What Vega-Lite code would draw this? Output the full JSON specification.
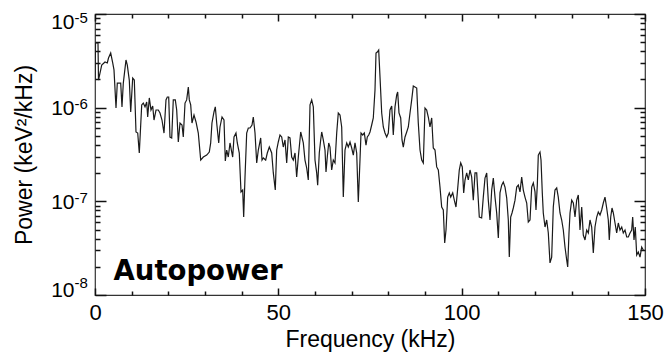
{
  "$schema": "https://vega.github.io/schema/vega-lite/v6.json",
  "width": 550,
  "height": 281,
  "autosize": {"type": "none"},
  "padding": {"left": 95, "top": 14, "right": 21, "bottom": 62},
  "background": "white",
  "config": {
    "view": {"stroke": "#333333", "strokeWidth": 1.2},
    "axis": {"domain": false, "grid": false, "ticks": true, "tickColor": "#111111", "tickWidth": 1.5, "tickOpacity": 1, "zindex": 1, "labelColor": "black", "titleColor": "black", "labelFont": "Liberation Sans", "titleFont": "Liberation Sans", "titleFontWeight": "normal", "labelOverlap": false, "labelFlush": false}
  },
  "datasets": {
    "spectrum": [
      {"f":0,"p":1.97e-6},{"f":0.14,"p":4.90e-6},{"f":0.82,"p":4.90e-6},{"f":0.95,"p":1.97e-6},{"f":1.83,"p":2.85e-6},{"f":2.73,"p":3.07e-6},{"f":3.35,"p":3.00e-6},{"f":3.68,"p":3.39e-6},{"f":4.28,"p":3.83e-6},{"f":4.83,"p":3.00e-6},
      {"f":5.18,"p":2.53e-6},{"f":5.73,"p":9.92e-7},{"f":6.08,"p":1.83e-6},{"f":7.01,"p":1.83e-6},{"f":7.36,"p":1.02e-6},{"f":7.72,"p":1.83e-6},{"f":8.45,"p":3.23e-6},{"f":8.81,"p":2.85e-6},{"f":9.35,"p":1.97e-6},{"f":9.74,"p":8.99e-7},
      {"f":10.28,"p":2.07e-6},{"f":10.72,"p":1.97e-6},{"f":11.18,"p":5.50e-7},{"f":11.65,"p":5.36e-7},{"f":12.08,"p":3.28e-7},{"f":12.74,"p":1.07e-6},{"f":13.17,"p":1.12e-6},{"f":13.64,"p":1.02e-6},{"f":14.1,"p":1.15e-6},{"f":14.37,"p":7.95e-7},
      {"f":14.81,"p":1.27e-6},{"f":15.27,"p":9.44e-7},{"f":15.74,"p":1.04e-6},{"f":16.09,"p":7.38e-7},{"f":16.64,"p":9.44e-7},{"f":17.26,"p":9.44e-7},{"f":17.73,"p":8.77e-7},{"f":18.27,"p":7.38e-7},{"f":18.82,"p":5.36e-7},{"f":19.36,"p":1.21e-6},
      {"f":19.72,"p":1.30e-6},{"f":20.1,"p":1.30e-6},{"f":20.45,"p":4.86e-7},{"f":20.92,"p":4.75e-7},{"f":21.35,"p":1.21e-6},{"f":21.9,"p":1.21e-6},{"f":22.28,"p":9.44e-7},{"f":22.72,"p":4.30e-7},{"f":23.18,"p":6.86e-7},{"f":23.73,"p":6.53e-7},
      {"f":24.08,"p":4.86e-7},{"f":24.55,"p":1.12e-6},{"f":25.0,"p":1.21e-6},{"f":25.45,"p":1.66e-6},{"f":25.72,"p":1.21e-6},{"f":26.1,"p":1.07e-6},{"f":26.45,"p":6.86e-7},{"f":27.0,"p":8.35e-7},{"f":27.55,"p":7.03e-7},{"f":28.17,"p":5.36e-7},
      {"f":28.83,"p":2.76e-7},{"f":29.54,"p":2.97e-7},{"f":30.46,"p":3.12e-7},{"f":31.17,"p":3.36e-7},{"f":31.55,"p":4.20e-7},{"f":31.9,"p":6.86e-7},{"f":32.45,"p":8.99e-7},{"f":32.81,"p":1.02e-6},{"f":33.19,"p":6.86e-7},{"f":33.74,"p":4.20e-7},
      {"f":34.09,"p":6.22e-7},{"f":34.64,"p":7.95e-7},{"f":35.18,"p":7.38e-7},{"f":35.54,"p":2.70e-7},{"f":35.92,"p":3.53e-7},{"f":36.35,"p":2.97e-7},{"f":36.82,"p":4.20e-7},{"f":37.55,"p":2.97e-7},{"f":37.91,"p":4.86e-7},{"f":38.45,"p":5.36e-7},
      {"f":38.81,"p":4.20e-7},{"f":39.35,"p":3.28e-7},{"f":39.82,"p":1.26e-7},{"f":40.28,"p":1.32e-7},{"f":40.55,"p":6.80e-8},{"f":40.91,"p":1.82e-7},{"f":41.37,"p":5.36e-7},{"f":41.81,"p":6.07e-7},{"f":42.27,"p":6.07e-7},{"f":42.82,"p":6.53e-7},
      {"f":43.17,"p":7.95e-7},{"f":43.64,"p":5.36e-7},{"f":44.1,"p":2.57e-7},{"f":44.54,"p":3.53e-7},{"f":45.19,"p":4.75e-7},{"f":45.55,"p":2.76e-7},{"f":45.9,"p":2.90e-7},{"f":46.55,"p":2.76e-7},{"f":46.99,"p":3.28e-7},{"f":47.54,"p":3.80e-7},
      {"f":48.19,"p":3.28e-7},{"f":48.63,"p":2.01e-7},{"f":49.17,"p":1.32e-7},{"f":49.55,"p":3.53e-7},{"f":49.99,"p":4.30e-7},{"f":50.45,"p":5.11e-7},{"f":50.92,"p":4.86e-7},{"f":51.35,"p":3.80e-7},{"f":51.82,"p":4.52e-7},{"f":52.28,"p":2.57e-7},
      {"f":52.72,"p":4.86e-7},{"f":53.18,"p":4.75e-7},{"f":53.64,"p":2.97e-7},{"f":54.08,"p":2.76e-7},{"f":54.55,"p":3.28e-7},{"f":55.0,"p":1.82e-7},{"f":55.45,"p":2.97e-7},{"f":56.1,"p":5.50e-7},{"f":56.81,"p":4.20e-7},{"f":57.27,"p":2.76e-7},
      {"f":57.73,"p":2.27e-7},{"f":58.17,"p":1.69e-7},{"f":58.64,"p":1.07e-6},{"f":59.1,"p":1.21e-6},{"f":59.54,"p":1.02e-6},{"f":60.0,"p":2.76e-7},{"f":60.46,"p":2.01e-7},{"f":60.73,"p":1.49e-7},{"f":61.17,"p":3.28e-7},{"f":61.55,"p":4.52e-7},
      {"f":61.83,"p":5.50e-7},{"f":62.26,"p":4.52e-7},{"f":62.73,"p":3.53e-7},{"f":63.0,"p":2.06e-7},{"f":63.35,"p":2.97e-7},{"f":63.74,"p":4.20e-7},{"f":64.09,"p":3.80e-7},{"f":64.55,"p":2.16e-7},{"f":64.99,"p":2.76e-7},{"f":65.45,"p":2.57e-7},
      {"f":65.92,"p":5.36e-7},{"f":66.35,"p":8.77e-7},{"f":66.82,"p":8.35e-7},{"f":67.28,"p":6.22e-7},{"f":67.72,"p":1.11e-7},{"f":68.18,"p":3.53e-7},{"f":68.65,"p":4.20e-7},{"f":69.08,"p":3.80e-7},{"f":69.55,"p":4.30e-7},{"f":70.01,"p":3.71e-7},
      {"f":70.45,"p":3.12e-7},{"f":70.91,"p":4.20e-7},{"f":71.37,"p":3.28e-7},{"f":71.81,"p":9.84e-8},{"f":72.27,"p":2.76e-7},{"f":72.55,"p":5.36e-7},{"f":73.01,"p":5.11e-7},{"f":73.45,"p":5.36e-7},{"f":73.91,"p":3.99e-7},{"f":74.26,"p":4.86e-7},
      {"f":74.65,"p":5.11e-7},{"f":75.0,"p":5.50e-7},{"f":75.46,"p":6.53e-7},{"f":75.9,"p":7.76e-7},{"f":76.36,"p":1.54e-6},{"f":76.64,"p":3.83e-6},{"f":76.99,"p":3.93e-6},{"f":77.37,"p":4.13e-6},{"f":77.73,"p":2.13e-6},{"f":78.19,"p":8.77e-7},
      {"f":78.63,"p":6.22e-7},{"f":79.09,"p":5.36e-7},{"f":79.55,"p":4.86e-7},{"f":79.99,"p":5.36e-7},{"f":80.45,"p":9.44e-7},{"f":80.92,"p":1.04e-6},{"f":81.35,"p":5.11e-7},{"f":81.82,"p":1.02e-6},{"f":82.28,"p":1.37e-6},{"f":82.55,"p":1.47e-6},
      {"f":82.91,"p":8.77e-7},{"f":83.37,"p":7.76e-7},{"f":83.73,"p":4.52e-7},{"f":84.08,"p":3.80e-7},{"f":84.55,"p":4.86e-7},{"f":85.01,"p":5.50e-7},{"f":85.45,"p":6.22e-7},{"f":85.91,"p":8.77e-7},{"f":86.37,"p":1.21e-6},{"f":86.81,"p":1.70e-6},
      {"f":87.27,"p":1.66e-6},{"f":87.74,"p":1.62e-6},{"f":88.17,"p":6.86e-7},{"f":88.64,"p":3.53e-7},{"f":89.1,"p":2.76e-7},{"f":89.54,"p":2.57e-7},{"f":90.0,"p":9.92e-7},{"f":90.46,"p":9.44e-7},{"f":90.9,"p":7.95e-7},{"f":91.36,"p":6.22e-7},
      {"f":91.83,"p":7.76e-7},{"f":92.26,"p":3.71e-7},{"f":92.73,"p":3.53e-7},{"f":93.19,"p":2.33e-7},{"f":93.63,"p":2.16e-7},{"f":94.09,"p":1.42e-7},{"f":94.55,"p":8.70e-8},{"f":94.99,"p":8.08e-8},{"f":95.37,"p":3.59e-8},{"f":95.73,"p":4.94e-8},
      {"f":96.19,"p":1.11e-7},{"f":96.63,"p":1.23e-7},{"f":97.01,"p":1.11e-7},{"f":97.56,"p":1.23e-7},{"f":97.99,"p":1.03e-7},{"f":98.45,"p":8.70e-8},{"f":98.81,"p":1.23e-7},{"f":99.35,"p":2.16e-7},{"f":99.74,"p":2.57e-7},{"f":100.17,"p":2.33e-7},
      {"f":100.55,"p":1.23e-7},{"f":100.91,"p":1.69e-7},{"f":101.37,"p":2.01e-7},{"f":101.81,"p":1.69e-7},{"f":102.27,"p":2.16e-7},{"f":102.73,"p":1.82e-7},{"f":103.17,"p":1.03e-7},{"f":103.64,"p":2.01e-7},{"f":104.1,"p":2.01e-7},{"f":104.81,"p":6.80e-8},
      {"f":105.45,"p":6.64e-8},{"f":105.9,"p":1.11e-7},{"f":106.36,"p":1.77e-7},{"f":106.83,"p":2.01e-7},{"f":107.26,"p":1.03e-7},{"f":107.73,"p":6.32e-8},{"f":108.19,"p":1.32e-7},{"f":108.63,"p":1.77e-7},{"f":109.09,"p":1.11e-7},{"f":109.55,"p":7.51e-8},
      {"f":110.0,"p":4.06e-8},{"f":110.45,"p":1.23e-7},{"f":110.92,"p":1.49e-7},{"f":111.35,"p":1.61e-7},{"f":111.82,"p":1.42e-7},{"f":112.28,"p":1.09e-7},{"f":112.72,"p":6.32e-8},{"f":112.99,"p":2.54e-8},{"f":113.37,"p":6.80e-8},{"f":113.73,"p":7.51e-8},
      {"f":114.08,"p":8.49e-8},{"f":114.55,"p":1.03e-7},{"f":115.01,"p":1.42e-7},{"f":115.45,"p":1.49e-7},{"f":115.91,"p":1.26e-7},{"f":116.37,"p":1.82e-7},{"f":116.81,"p":1.32e-7},{"f":117.27,"p":1.11e-7},{"f":117.74,"p":9.60e-8},{"f":118.17,"p":6.02e-8},
      {"f":118.64,"p":6.32e-8},{"f":119.1,"p":1.42e-7},{"f":119.54,"p":1.57e-7},{"f":120.0,"p":1.26e-7},{"f":120.27,"p":8.08e-8},{"f":120.63,"p":1.49e-7},{"f":120.9,"p":3.12e-7},{"f":121.36,"p":3.36e-7},{"f":121.64,"p":2.76e-7},{"f":121.99,"p":1.23e-7},
      {"f":122.26,"p":7.51e-8},{"f":122.73,"p":5.32e-8},{"f":123.19,"p":6.32e-8},{"f":123.63,"p":4.59e-8},{"f":124.09,"p":2.20e-8},{"f":124.55,"p":2.54e-8},{"f":124.99,"p":8.70e-8},{"f":125.45,"p":1.32e-7},{"f":125.92,"p":1.39e-7},{"f":126.35,"p":1.11e-7},
      {"f":126.82,"p":7.51e-8},{"f":127.28,"p":6.32e-8},{"f":127.72,"p":4.94e-8},{"f":128.18,"p":3.25e-8},{"f":128.65,"p":2.36e-8},{"f":128.92,"p":1.99e-8},{"f":129.27,"p":4.59e-8},{"f":129.55,"p":7.51e-8},{"f":130.01,"p":1.03e-7},{"f":130.45,"p":9.60e-8},
      {"f":130.91,"p":6.80e-8},{"f":131.37,"p":1.03e-7},{"f":131.81,"p":1.17e-7},{"f":132.27,"p":4.94e-8},{"f":132.74,"p":8.70e-8},{"f":133.17,"p":4.37e-8},{"f":133.64,"p":3.87e-8},{"f":134.1,"p":4.94e-8},{"f":134.54,"p":4.59e-8},{"f":135.0,"p":6.32e-8},
      {"f":135.46,"p":5.32e-8},{"f":135.9,"p":2.81e-8},{"f":136.36,"p":5.32e-8},{"f":136.83,"p":6.80e-8},{"f":137.26,"p":7.69e-8},{"f":137.73,"p":7.15e-8},{"f":138.19,"p":8.08e-8},{"f":138.63,"p":9.60e-8},{"f":139.09,"p":1.11e-7},{"f":139.55,"p":8.49e-8},
      {"f":139.99,"p":6.32e-8},{"f":140.26,"p":3.87e-8},{"f":140.65,"p":6.80e-8},{"f":141.0,"p":8.49e-8},{"f":141.36,"p":7.51e-8},{"f":141.82,"p":5.87e-8},{"f":142.28,"p":4.59e-8},{"f":142.72,"p":5.87e-8},{"f":143.18,"p":4.94e-8},{"f":143.65,"p":5.32e-8},
      {"f":144.08,"p":4.59e-8},{"f":144.55,"p":4.94e-8},{"f":145.01,"p":4.16e-8},{"f":145.45,"p":4.16e-8},{"f":145.91,"p":4.59e-8},{"f":146.37,"p":4.94e-8},{"f":146.64,"p":6.80e-8},{"f":147.0,"p":3.87e-8},{"f":147.35,"p":5.32e-8},{"f":147.74,"p":2.67e-8},
      {"f":148.17,"p":2.88e-8},{"f":148.64,"p":2.54e-8},{"f":149.1,"p":3.25e-8},{"f":149.54,"p":3.02e-8}
    ],
    "label": [{"f": 5.05, "p": 1.445e-8, "text": "Autopower"}]
  },
  "layer": [
    {
      "data": {"name": "spectrum"},
      "mark": {"type": "line", "color": "#1a1a1a", "strokeWidth": 1.2, "clip": true},
      "encoding": {
        "x": {
          "field": "f", "type": "quantitative",
          "scale": {"domain": [0, 150], "nice": false, "zero": false},
          "axis": {"orient": "bottom", "values": [0, 50, 100, 150], "ticks": false, "labelPadding": 7, "labelFontSize": 22, "title": "Frequency (kHz)", "titleFontSize": 23, "titlePadding": 5}
        },
        "y": {
          "field": "p", "type": "quantitative",
          "scale": {"type": "log", "domain": [1e-8, 1e-5], "nice": false},
          "axis": {
            "orient": "left", "values": [1e-8, 1e-7, 1e-6, 1e-5], "ticks": false,
            "labelExpr": "'10'", "labelPadding": 21, "labelFontSize": 21,
            "labelOffset": {"condition": [{"test": "datum.value === 1e-5", "value": 8}, {"test": "datum.value === 1e-8", "value": -5}], "value": 1},
            "title": "Power (keV²/kHz)", "titleFontSize": 23, "titlePadding": 14
          }
        }
      }
    },
    {
      "data": {"name": "label"},
      "mark": {"type": "text", "align": "left", "baseline": "alphabetic", "font": "DejaVu Sans", "fontWeight": "bold", "fontSize": 27.5, "color": "black"},
      "encoding": {
        "x": {"field": "f", "type": "quantitative", "scale": {"domain": [0, 150], "nice": false, "zero": false},
          "axis": {"orient": "top", "offset": -7, "values": [0, 50, 100, 150], "labels": false, "ticks": true, "tickSize": 7, "title": null}},
        "y": {"field": "p", "type": "quantitative", "scale": {"type": "log", "domain": [1e-8, 1e-5], "nice": false},
          "axis": {"orient": "right", "offset": -11, "values": [1e-8, 1e-7, 1e-6, 1e-5], "labels": false, "ticks": true, "tickSize": 11, "title": null}},
        "text": {"field": "text"}
      }
    },
    {
      "data": {"name": "label"},
      "mark": {"type": "point", "opacity": 0},
      "encoding": {
        "x": {"field": "f", "type": "quantitative", "scale": {"domain": [0, 150], "nice": false, "zero": false},
          "axis": {"orient": "bottom", "offset": -7, "values": [0, 50, 100, 150], "labels": false, "ticks": true, "tickSize": 7, "title": null}},
        "y": {"field": "p", "type": "quantitative", "scale": {"type": "log", "domain": [1e-8, 1e-5], "nice": false},
          "axis": {"orient": "left", "offset": -11, "values": [1e-8, 1e-7, 1e-6, 1e-5], "labels": false, "ticks": true, "tickSize": 11, "title": null}}
      }
    },
    {
      "data": {"name": "label"},
      "mark": {"type": "point", "opacity": 0},
      "encoding": {
        "x": {"field": "f", "type": "quantitative", "scale": {"domain": [0, 150], "nice": false, "zero": false},
          "axis": {"orient": "bottom", "offset": -4, "values": [10, 20, 30, 40, 60, 70, 80, 90, 110, 120, 130, 140], "labels": false, "ticks": true, "tickSize": 4, "title": null}},
        "y": {"field": "p", "type": "quantitative", "scale": {"type": "log", "domain": [1e-8, 1e-5], "nice": false},
          "axis": {"orient": "left", "offset": -5, "values": [2e-8,3e-8,4e-8,5e-8,6e-8,7e-8,8e-8,9e-8,2e-7,3e-7,4e-7,5e-7,6e-7,7e-7,8e-7,9e-7,2e-6,3e-6,4e-6,5e-6,6e-6,7e-6,8e-6,9e-6], "labels": false, "ticks": true, "tickSize": 5, "title": null}}
      }
    },
    {
      "data": {"name": "label"},
      "mark": {"type": "point", "opacity": 0},
      "encoding": {
        "x": {"field": "f", "type": "quantitative", "scale": {"domain": [0, 150], "nice": false, "zero": false},
          "axis": {"orient": "top", "offset": -4, "values": [10, 20, 30, 40, 60, 70, 80, 90, 110, 120, 130, 140], "labels": false, "ticks": true, "tickSize": 4, "title": null}},
        "y": {"field": "p", "type": "quantitative", "scale": {"type": "log", "domain": [1e-8, 1e-5], "nice": false},
          "axis": {"orient": "right", "offset": -5, "values": [2e-8,3e-8,4e-8,5e-8,6e-8,7e-8,8e-8,9e-8,2e-7,3e-7,4e-7,5e-7,6e-7,7e-7,8e-7,9e-7,2e-6,3e-6,4e-6,5e-6,6e-6,7e-6,8e-6,9e-6], "labels": false, "ticks": true, "tickSize": 5, "title": null}}
      }
    },
    {
      "data": {"name": "label"},
      "mark": {"type": "point", "opacity": 0},
      "encoding": {
        "x": {"field": "f", "type": "quantitative", "scale": {"domain": [0, 150], "nice": false, "zero": false}, "axis": null},
        "y": {"field": "p", "type": "quantitative", "scale": {"type": "log", "domain": [1e-8, 1e-5], "nice": false},
          "axis": {
            "orient": "left", "values": [1e-8, 1e-7, 1e-6, 1e-5], "ticks": false,
            "labelExpr": "datum.value === 1e-5 ? '-5' : datum.value === 1e-6 ? '-6' : datum.value === 1e-7 ? '-7' : '-8'",
            "labelAlign": "left", "labelPadding": 21, "labelFontSize": 15,
            "labelOffset": {"condition": [{"test": "datum.value === 1e-5", "value": 3}, {"test": "datum.value === 1e-8", "value": -13}], "value": -4},
            "title": null
          }
        }
      }
    }
  ],
  "resolve": {"axis": {"x": "independent", "y": "independent"}}
}
